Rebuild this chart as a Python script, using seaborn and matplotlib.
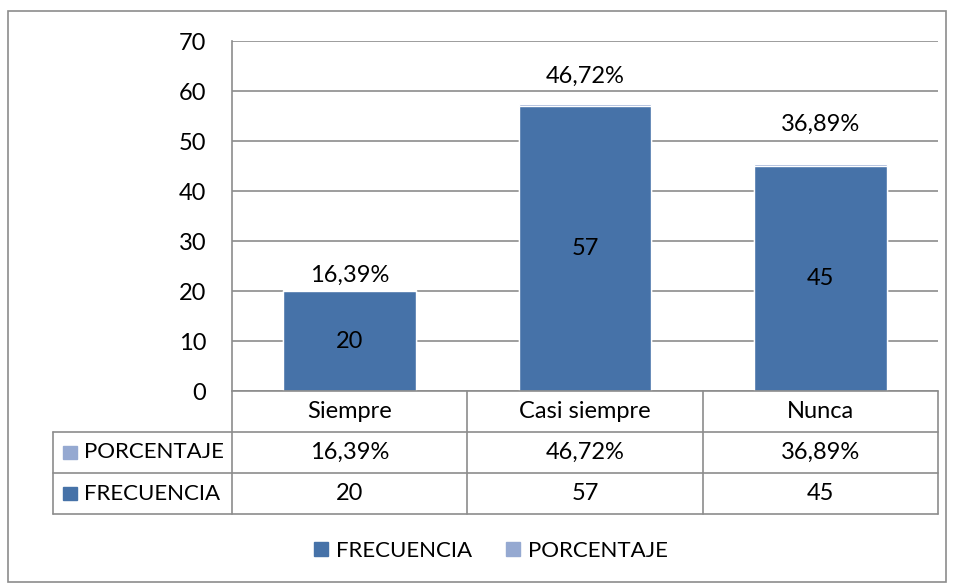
import numpy as np
import pandas as pd
import seaborn as sns
import matplotlib.pyplot as plt
from matplotlib.patches import Patch, Rectangle

# datos del grafico
categorias = ['Siempre', 'Casi siempre', 'Nunca']
frecuencia = [20, 57, 45]
porcentaje = [0.1639, 0.4672, 0.3689]
serie_nombres = ['FRECUENCIA', 'PORCENTAJE']

azul_oscuro = '#4672A8'
azul_claro = '#95A9D1'
gris = '#8C8C8C'

sns.set_style('white')
plt.rcParams['font.family'] = ['Lato', 'DejaVu Sans']
plt.rcParams['text.color'] = 'black'
plt.rcParams['ytick.color'] = 'black'
fs = 17
fs_leg = 16

def fmt_pct(v):
    return f'{v * 100:.2f}%'.replace('.', ',')

df = pd.DataFrame({'categoria': categorias, 'frecuencia': frecuencia,
                   'porcentaje': porcentaje})
df['total'] = df['frecuencia'] + df['porcentaje']

W, H = 954, 585
fig = plt.figure(figsize=(W / 100, H / 100), dpi=100)

# marco exterior
fig.patches.append(Rectangle((8 / W, 3 / H), 938 / W, (H - 14) / H, transform=fig.transFigure,
                             fill=False, edgecolor=gris, linewidth=1.2))

ax = fig.add_axes([232 / W, (H - 391) / H, (938 - 232) / W, (391 - 41) / H])
ancho = 0.565
sns.barplot(data=df, x='categoria', y='total', color=azul_claro, saturation=1,
            width=ancho, ax=ax)
sns.barplot(data=df, x='categoria', y='frecuencia', color=azul_oscuro, saturation=1,
            width=ancho, ax=ax)

ax.set_xlim(-0.5, len(categorias) - 0.5)
ax.set_ylim(0, 70)
ax.set_yticks(range(0, 71, 10))
ax.yaxis.grid(True, color=gris, linewidth=1.2)
ax.set_axisbelow(True)
for s in ['top', 'right', 'bottom']:
    ax.spines[s].set_visible(False)
ax.spines['left'].set_color(gris)
ax.spines['left'].set_linewidth(1.2)
ax.set_xlabel('')
ax.set_ylabel('')
ax.set_xticks([])
ax.tick_params(axis='y', length=0, labelsize=fs, pad=18.5)

# etiquetas dentro de las barras
ax.bar_label(ax.containers[1], labels=[str(v) for v in frecuencia],
             label_type='center', fontsize=fs)
# etiquetas de porcentaje sobre las barras
desplaz = [4, 17, 29]
for i, bar in enumerate(ax.containers[0]):
    ax.annotate(fmt_pct(porcentaje[i]), (bar.get_x() + bar.get_width() / 2, bar.get_height()),
                xytext=(0, desplaz[i] * 0.72), textcoords='offset points',
                ha='center', va='bottom', fontsize=fs)

# tabla de datos
tx = fig.add_axes([53 / W, (H - 514) / H, (938 - 53) / W, (514 - 391) / H])
cab = (232 - 53) / ((938 - 232) / 3)
x0 = -0.5 - cab
tx.set_xlim(x0, len(categorias) - 0.5)
tx.set_ylim(0, 3)
tx.axis('off')
lw = 1.2
n = len(categorias)
# lineas horizontales
tx.plot([-0.5, n - 0.5], [3, 3], color=gris, lw=lw, clip_on=False)
for yy in [0, 1, 2]:
    tx.plot([x0, n - 0.5], [yy, yy], color=gris, lw=lw, clip_on=False)
# lineas verticales
tx.plot([x0, x0], [0, 2], color=gris, lw=lw, clip_on=False)
for xx in np.arange(-0.5, n, 1.0):
    tx.plot([xx, xx], [0, 3], color=gris, lw=lw, clip_on=False)

for i, c in enumerate(categorias):
    tx.text(i, 2.5, c, ha='center', va='center', fontsize=fs)
    tx.text(i, 1.5, fmt_pct(porcentaje[i]), ha='center', va='center', fontsize=fs)
    tx.text(i, 0.5, str(frecuencia[i]), ha='center', va='center', fontsize=fs)

for yy, nombre, col in [(1.5, 'PORCENTAJE', azul_claro), (0.5, 'FRECUENCIA', azul_oscuro)]:
    tx.add_patch(Rectangle((x0 + 0.043, yy - 0.17), 0.06, 0.34, color=col, clip_on=False))
    tx.text(x0 + 0.13, yy, nombre, ha='left', va='center', fontsize=fs_leg)

handles = [Patch(color=azul_oscuro, label=serie_nombres[0]),
           Patch(color=azul_claro, label=serie_nombres[1])]
fig.legend(handles=handles, loc='center', bbox_to_anchor=(491 / W, (H - 551) / H),
           ncol=2, frameon=False, fontsize=fs_leg, handlelength=0.63, handleheight=0.63,
           handletextpad=0.36, columnspacing=1.5)

fig.savefig('out.png', dpi=100)
